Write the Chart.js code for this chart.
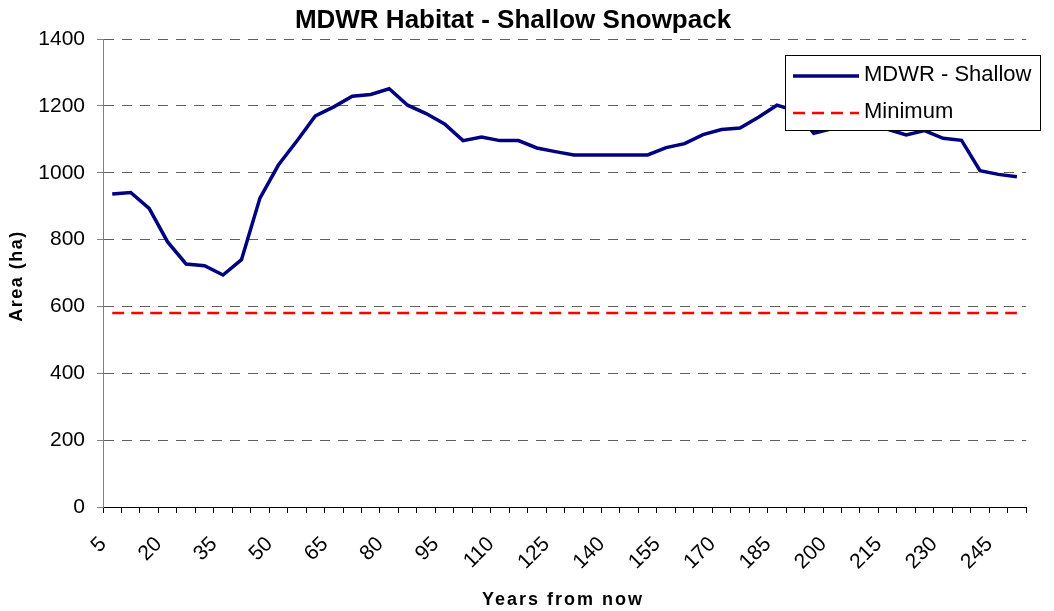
<!DOCTYPE html>
<html>
<head>
<meta charset="utf-8">
<title>MDWR Habitat - Shallow Snowpack</title>
<script src="https://cdn.jsdelivr.net/npm/chart.js@4.4.1/dist/chart.umd.min.js"></script>
<style>
  html, body { margin: 0; padding: 0; background: #fff; }
</style>
</head>
<body>
<canvas id="myChart" width="1054" height="611"></canvas>
<script>
// years from now, one category every 5 years
const years = [
  5, 10, 15, 20, 25, 30, 35, 40, 45, 50,
  55, 60, 65, 70, 75, 80, 85, 90, 95, 100,
  105, 110, 115, 120, 125, 130, 135, 140, 145, 150,
  155, 160, 165, 170, 175, 180, 185, 190, 195, 200,
  205, 210, 215, 220, 225, 230, 235, 240, 245, 250,
];

// MDWR habitat area (ha), shallow snowpack
const shallowArea = [
  936, 941, 893, 793, 727, 722, 694, 740, 924, 1023,
  1095, 1170, 1197, 1229, 1234, 1251, 1202, 1177, 1146, 1096,
  1107, 1096, 1096, 1074, 1063, 1053, 1053, 1053, 1053, 1053,
  1075, 1087, 1114, 1129, 1134, 1166, 1202, 1185, 1118, 1132,
  1150, 1145, 1130, 1113, 1126, 1103, 1097, 1006, 995, 988,
];

// minimum habitat target (ha)
const minimumArea = [
  580, 580, 580, 580, 580, 580, 580, 580, 580, 580,
  580, 580, 580, 580, 580, 580, 580, 580, 580, 580,
  580, 580, 580, 580, 580, 580, 580, 580, 580, 580,
  580, 580, 580, 580, 580, 580, 580, 580, 580, 580,
  580, 580, 580, 580, 580, 580, 580, 580, 580, 580,
];

// labels shown under the x axis
const xTickLabels = ["5", "20", "35", "50", "65", "80", "95", "110", "125",
  "140", "155", "170", "185", "200", "215", "230", "245"];
const yTicks = [0, 200, 400, 600, 800, 1000, 1200, 1400];

const chartTitle = "MDWR Habitat - Shallow Snowpack";
const xTitle = "Years from now";
const yTitle = "Area (ha)";

const FONT = "'Liberation Sans', Arial, sans-serif";

// title, axis titles and the boxed legend, drawn like the Excel original
const chartText = {
  id: "chartText",
  afterDraw(chart) {
    const ctx = chart.ctx;
    ctx.save();
    ctx.fillStyle = "#000";
    ctx.textBaseline = "alphabetic";

    ctx.font = "bold 26px " + FONT;
    ctx.textAlign = "center";
    ctx.fillText(chartTitle, 513, 28);

    ctx.font = "bold 18px " + FONT;
    ctx.letterSpacing = "2px";
    ctx.fillText(xTitle, 563, 605);

    ctx.save();
    ctx.letterSpacing = "1.5px";
    ctx.translate(22, 276);
    ctx.rotate(-Math.PI / 2);
    ctx.fillText(yTitle, 0, 0);
    ctx.restore();
    ctx.letterSpacing = "0px";

    // legend
    ctx.fillStyle = "#fff";
    ctx.fillRect(785.5, 55.5, 255, 75);
    ctx.strokeStyle = "#000";
    ctx.lineWidth = 1;
    ctx.strokeRect(785.5, 55.5, 255, 75);

    const rows = [76, 113];
    chart.data.datasets.forEach((ds, i) => {
      const y = rows[i];
      ctx.strokeStyle = ds.borderColor;
      ctx.lineWidth = ds.borderWidth;
      ctx.setLineDash(ds.borderDash || []);
      ctx.beginPath();
      ctx.moveTo(793, y);
      ctx.lineTo(859, y);
      ctx.stroke();
      ctx.setLineDash([]);

      ctx.fillStyle = "#000";
      ctx.font = "22px " + FONT;
      ctx.textAlign = "left";
      ctx.fillText(ds.label, 864, y + 5);
    });
    ctx.restore();
  },
};

const ctx = document.getElementById("myChart");

new Chart(ctx, {
  type: "line",
  data: {
    labels: years,
    datasets: [
      {
        label: "MDWR - Shallow",
        data: shallowArea,
        borderColor: "#000080",
        backgroundColor: "#000080",
        borderWidth: 3.5,
        pointRadius: 0,
        tension: 0,
      },
      {
        label: "Minimum",
        data: minimumArea,
        borderColor: "#FF0000",
        backgroundColor: "#FF0000",
        borderWidth: 2.5,
        borderDash: [12, 7],
        pointRadius: 0,
        tension: 0,
      },
    ],
  },
  options: {
    responsive: false,
    animation: false,
    devicePixelRatio: 1,
    layout: {
      padding: { top: 39, right: 25, bottom: 0, left: 0 },
    },
    plugins: {
      legend: { display: false },
      title: { display: false },
      tooltip: { enabled: false },
    },
    scales: {
      x: {
        offset: true,
        grid: {
          offset: true,
          drawOnChartArea: false,
          drawTicks: true,
          tickLength: 6,
          tickColor: "#000",
          tickWidth: 1,
        },
        border: { color: "#000", width: 1 },
        ticks: {
          autoSkip: false,
          maxRotation: 45,
          minRotation: 45,
          padding: 19,
          labelOffset: -9,
          color: "#000",
          font: { family: FONT, size: 21 },
          callback: (value, index) => {
            const label = String(years[index]);
            return xTickLabels.includes(label) ? label : "";
          },
        },
        afterFit: (scale) => {
          scale.height = 104;
        },
      },
      y: {
        min: yTicks[0],
        max: yTicks[yTicks.length - 1],
        afterBuildTicks: (scale) => {
          scale.ticks = yTicks.map((v) => ({ value: v }));
        },
        ticks: {
          padding: 12,
          color: "#000",
          font: { family: FONT, size: 21 },
          callback: (value) => String(value),
        },
        grid: {
          color: (c) => (c.tick && c.tick.value === 0 ? "rgba(0,0,0,0)" : "#606060"),
          lineWidth: 1,
          drawTicks: true,
          tickLength: 6,
          tickColor: "#808080",
          tickBorderDash: [],
        },
        border: { color: "#808080", width: 1, dash: [10, 8] },
        afterFit: (scale) => {
          scale.width = 103;
        },
      },
    },
  },
  plugins: [chartText],
});
</script>
</body>
</html>
